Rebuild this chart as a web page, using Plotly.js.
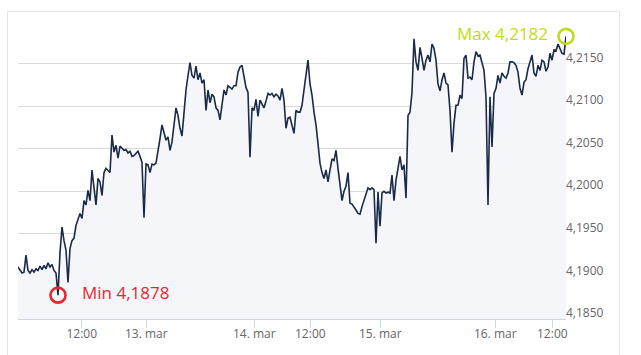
<!DOCTYPE html>
<html>
<head>
<meta charset="utf-8">
<script src="https://cdn.plot.ly/plotly-3.0.1.min.js"></script>
<style>
  html, body { margin: 0; padding: 0; background: #ffffff; }
  #frame { position: absolute; left: 7px; top: 11px; width: 613px; height: 400px; border: 1px solid #e6e6e6; box-sizing: border-box; }
  #chart { position: absolute; left: 0; top: 0; width: 641px; height: 355px; }
</style>
</head>
<body>
<div id="frame"></div>
<div id="chart"></div>
<script>
// EUR/PLN-style quotes, ordinal (one entry per sample)
const rate = [
  4.1911, 4.1907, 4.1904, 4.1905, 4.1925, 4.1907, 4.1904, 4.1908, 4.1905, 4.1909,
  4.1907, 4.1912, 4.1908, 4.1913, 4.1909, 4.1916, 4.1911, 4.1914, 4.1907, 4.1904,
  4.1878, 4.1928, 4.1958, 4.1942, 4.1931, 4.1893, 4.1933, 4.1942, 4.1945, 4.1960,
  4.1966, 4.1974, 4.1968, 4.1989, 4.1984, 4.2001, 4.1989, 4.2025, 4.2004, 4.1984,
  4.2015, 4.2011, 4.1995, 4.2022, 4.2027, 4.2025, 4.2022, 4.2066, 4.2046, 4.2054,
  4.2039, 4.2053, 4.2051, 4.2048, 4.2049, 4.2045, 4.2047, 4.2041, 4.2042, 4.2045,
  4.2047, 4.2041, 4.2034, 4.1969, 4.2032, 4.2031, 4.2022, 4.2032, 4.2031, 4.2033,
  4.2046, 4.2062, 4.2078, 4.2067, 4.2060, 4.2064, 4.2048, 4.2058, 4.2078, 4.2098,
  4.2089, 4.2074, 4.2065, 4.2093, 4.2119, 4.2136, 4.2151, 4.2136, 4.2133, 4.2147,
  4.2131, 4.2139, 4.2127, 4.2131, 4.2095, 4.2119, 4.2104, 4.2114, 4.2111, 4.2098,
  4.2095, 4.2084, 4.2101, 4.2119, 4.2113, 4.2124, 4.2122, 4.2120, 4.2124, 4.2124,
  4.2140, 4.2146, 4.2148, 4.2133, 4.2122, 4.2116, 4.2040, 4.2098, 4.2095, 4.2108,
  4.2088, 4.2107, 4.2102, 4.2098, 4.2106, 4.2115, 4.2113, 4.2115, 4.2111, 4.2114,
  4.2112, 4.2107, 4.2121, 4.2107, 4.2074, 4.2086, 4.2087, 4.2078, 4.2068, 4.2095,
  4.2093, 4.2093, 4.2101, 4.2119, 4.2140, 4.2154, 4.2126, 4.2113, 4.2093, 4.2078,
  4.2056, 4.2033, 4.2022, 4.2015, 4.2025, 4.2011, 4.2025, 4.2038, 4.2036, 4.2048,
  4.2027, 4.2007, 4.1989, 4.2000, 4.2006, 4.2022, 4.1986, 4.1985, 4.1982, 4.1978,
  4.1974, 4.1973, 4.1982, 4.1989, 4.1998, 4.2004, 4.2002, 4.2004, 4.2002, 4.1939,
  4.1999, 4.1959, 4.1998, 4.2000, 4.1998, 4.1999, 4.1998, 4.2019, 4.1989, 4.2013,
  4.2027, 4.2041, 4.2025, 4.2031, 4.1992, 4.2089, 4.2093, 4.2116, 4.2179, 4.2152,
  4.2142, 4.2169, 4.2156, 4.2142, 4.2154, 4.2160, 4.2152, 4.2173, 4.2168, 4.2154,
  4.2126, 4.2118, 4.2131, 4.2139, 4.2127, 4.2125, 4.2095, 4.2046, 4.2080, 4.2101,
  4.2101, 4.2113, 4.2109, 4.2156, 4.2160, 4.2133, 4.2134, 4.2131, 4.2152, 4.2164,
  4.2159, 4.2160, 4.2151, 4.2142, 4.2111, 4.1984, 4.2111, 4.2052, 4.2115, 4.2121,
  4.2136, 4.2127, 4.2139, 4.2135, 4.2133, 4.2139, 4.2152, 4.2152, 4.2151, 4.2148,
  4.2140, 4.2121, 4.2113, 4.2128, 4.2131, 4.2144, 4.2152, 4.2160, 4.2139, 4.2135,
  4.2148, 4.2142, 4.2154, 4.2152, 4.2141, 4.2146, 4.2162, 4.2154, 4.2166, 4.2165,
  4.2173, 4.2168, 4.2162, 4.2161, 4.2182
];
const sampleIndex = rate.map((_, i) => i);

// x-axis labels (ordinal positions in sample index)
const xTickPos    = [31.85, 64.15, 118.15, 146.15, 181.15, 238.65, 267.15];
const xTickLabels = ['12:00', '13. mar', '14. mar', '12:00', '15. mar', '16. mar', '12:00'];

// y-axis ticks
const yTickVals   = [4.185, 4.19, 4.195, 4.2, 4.205, 4.21, 4.215, 4.22];
const yTickLabels = ['4,1850', '4,1900', '4,1950', '4,2000', '4,2050', '4,2100', '4,2150', ''];

// extremes
let minI = 0, maxI = 0;
rate.forEach((v, i) => { if (v < rate[minI]) minI = i; if (v > rate[maxI]) maxI = i; });
const fmt = v => v.toFixed(4).replace('.', ',');

const traces = [
  {
    x: sampleIndex, y: rate, type: 'scatter', mode: 'lines',
    line: { color: '#1a2a48', width: 1.6 },
    fill: 'tozeroy', fillcolor: '#f4f6f9',
    hoverinfo: 'skip'
  },
  {
    x: [sampleIndex[minI]], y: [rate[minI]], type: 'scatter', mode: 'markers',
    marker: { symbol: 'circle-open', size: 15, color: '#e8262e', line: { width: 2.6, color: '#e8262e' } },
    cliponaxis: false, hoverinfo: 'skip'
  },
  {
    x: [sampleIndex[maxI]], y: [rate[maxI]], type: 'scatter', mode: 'markers',
    marker: { symbol: 'circle-open', size: 15, color: '#bedc1a', line: { width: 2.6, color: '#bedc1a' } },
    cliponaxis: false, hoverinfo: 'skip'
  }
];

const layout = {
  width: 641, height: 355,
  margin: { l: 18, r: 75, t: 21, b: 36 },
  paper_bgcolor: 'rgba(0,0,0,0)',
  plot_bgcolor: '#ffffff',
  showlegend: false,
  font: { family: 'Open Sans, sans-serif', size: 12, color: '#666666' },
  xaxis: {
    range: [0, rate.length - 1],
    tickmode: 'array', tickvals: xTickPos, ticktext: xTickLabels,
    showgrid: false, zeroline: false,
    showline: true, linecolor: '#ccd6eb', linewidth: 1,
    ticks: 'outside', ticklen: 8, tickcolor: '#ccd6eb', tickwidth: 1,
    ticklabelstandoff: -4,
    tickfont: { family: 'Open Sans, sans-serif', size: 12, color: '#666666' }
  },
  yaxis: {
    side: 'right',
    range: [4.185, 4.22],
    tickmode: 'array', tickvals: yTickVals, ticktext: yTickLabels,
    showgrid: true, gridcolor: '#dadada', gridwidth: 1,
    zeroline: false, showline: false, ticks: '',
    ticklabelshift: -6, ticklabelstandoff: -1,
    tickfont: { family: 'Open Sans, sans-serif', size: 12, color: '#666666' }
  },
  annotations: [
    {
      x: sampleIndex[minI], y: rate[minI], xref: 'x', yref: 'y',
      text: 'Min ' + fmt(rate[minI]), showarrow: false,
      xanchor: 'left', yanchor: 'middle', xshift: 22, yshift: 3,
      font: { family: 'Open Sans, sans-serif', size: 17, color: '#e8262e' }
    },
    {
      x: sampleIndex[maxI], y: rate[maxI], xref: 'x', yref: 'y',
      text: 'Max ' + fmt(rate[maxI]), showarrow: false,
      xanchor: 'right', yanchor: 'middle', xshift: -16, yshift: 3,
      font: { family: 'Open Sans, sans-serif', size: 17, color: '#bedc1a' }
    }
  ]
};

Plotly.newPlot('chart', traces, layout, { staticPlot: true, displayModeBar: false });
</script>
</body>
</html>
